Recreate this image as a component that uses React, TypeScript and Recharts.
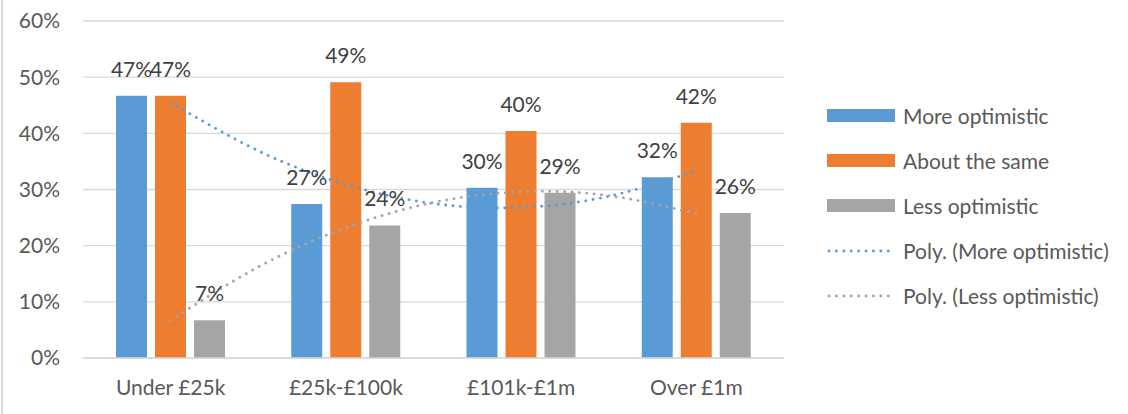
import { ComposedChart, Bar, Line, XAxis, YAxis, CartesianGrid, LabelList, Legend } from "recharts";

const categories = ["Under £25k", "£25k-£100k", "£101k-£1m", "Over £1m"];
const moreOptimistic = [46.7, 27.4, 30.3, 32.2];
const aboutSame = [46.7, 49.1, 40.4, 41.9];
const lessOptimistic = [6.7, 23.6, 29.4, 25.8];

// trendline positions (1 = first category centre)
const trendX = [1, 1.5, 2, 2.5, 3, 3.5, 4];
const polyMore = [45.5, 36.9, 30.9, 27.5, 26.8, 28.8, 33.3];
const polyLess = [6.7, 16.2, 23.2, 27.7, 29.6, 28.9, 25.7];

const yTicks = [0, 10, 20, 30, 40, 50, 60];

const BLUE = "#5B9BD5";
const ORANGE = "#ED7D31";
const GRAY = "#A5A5A5";
const FS = 21;

const data = categories.map((name, i) => ({
  name,
  more: moreOptimistic[i],
  same: aboutSame[i],
  less: lessOptimistic[i],
}));

const moreTrend = trendX.map((x, i) => ({ x, y: polyMore[i] }));
const lessTrend = trendX.map((x, i) => ({ x, y: polyLess[i] }));

const legendItems = [
  { label: "More optimistic", color: BLUE, kind: "bar" },
  { label: "About the same", color: ORANGE, kind: "bar" },
  { label: "Less optimistic", color: GRAY, kind: "bar" },
  { label: "Poly. (More optimistic)", color: BLUE, kind: "dot" },
  { label: "Poly. (Less optimistic)", color: GRAY, kind: "dot" },
];

const fmt = (v: any) => Math.round(Number(v)) + "%";

const renderLegend = () => (
  <div>
    {legendItems.map((it) => (
      <div key={it.label} style={{ display: "flex", alignItems: "center", height: 45 }}>
        <svg width={70} height={14} style={{ marginRight: 6 }}>
          {it.kind === "bar" ? (
            <rect x={0} y={0} width={68} height={13} fill={it.color} />
          ) : (
            <line
              x1={2}
              y1={7}
              x2={68}
              y2={7}
              stroke={it.color}
              strokeWidth={2.8}
              strokeDasharray="0.1 7.3"
              strokeLinecap="round"
            />
          )}
        </svg>
        <span style={{ fontSize: FS, color: "#595959", whiteSpace: "nowrap" }}>{it.label}</span>
      </div>
    ))}
  </div>
);

export default function App() {
  return (
    <div
      style={{
        position: "absolute",
        left: 0,
        top: 0,
        width: 1128,
        height: 414,
        background: "#fff",
        fontFamily: "Lato, 'Open Sans', sans-serif",
      }}
    >
      <div style={{ position: "absolute", left: 1, top: 0, width: 2, height: 414, background: "#d9d9d9" }} />
      <ComposedChart
        width={1128}
        height={414}
        data={data}
        margin={{ top: 21, right: 344, bottom: 0, left: 0 }}
        barCategoryGap={33}
        barGap={8}
      >
        <CartesianGrid vertical={false} stroke="#d9d9d9" strokeWidth={1.3} />
        <XAxis
          dataKey="name"
          height={56}
          axisLine={{ stroke: "#d9d9d9", strokeWidth: 1.3 }}
          tickLine={false}
          tickMargin={16}
          tick={{ fill: "#595959", fontSize: FS }}
        />
        <XAxis xAxisId="trend" type="number" dataKey="x" domain={[0.5, 4.5]} hide />
        <YAxis
          width={83}
          domain={[0, 60]}
          ticks={yTicks}
          tickFormatter={(v) => v + "%"}
          axisLine={false}
          tickLine={false}
          tickMargin={17}
          tick={{ fill: "#595959", fontSize: FS }}
        />
        <Bar dataKey="more" name="More optimistic" fill={BLUE} isAnimationActive={false}>
          <LabelList dataKey="more" position="top" offset={19} formatter={fmt} fill="#404040" fontSize={FS} />
        </Bar>
        <Bar dataKey="same" name="About the same" fill={ORANGE} isAnimationActive={false}>
          <LabelList dataKey="same" position="top" offset={19} formatter={fmt} fill="#404040" fontSize={FS} />
        </Bar>
        <Bar dataKey="less" name="Less optimistic" fill={GRAY} isAnimationActive={false}>
          <LabelList dataKey="less" position="top" offset={19} formatter={fmt} fill="#404040" fontSize={FS} />
        </Bar>
        <Line
          xAxisId="trend"
          data={moreTrend}
          dataKey="y"
          type="natural"
          stroke={BLUE}
          strokeWidth={2.8}
          strokeDasharray="0.1 7.3"
          strokeLinecap="round"
          dot={false}
          activeDot={false}
          isAnimationActive={false}
        />
        <Line
          xAxisId="trend"
          data={lessTrend}
          dataKey="y"
          type="natural"
          stroke={GRAY}
          strokeWidth={2.8}
          strokeDasharray="0.1 7.3"
          strokeLinecap="round"
          dot={false}
          activeDot={false}
          isAnimationActive={false}
        />
        <Legend
          layout="vertical"
          align="center"
          verticalAlign="middle"
          content={renderLegend}
          wrapperStyle={{ left: 827, top: 93, width: 300 }}
        />
      </ComposedChart>
    </div>
  );
}
